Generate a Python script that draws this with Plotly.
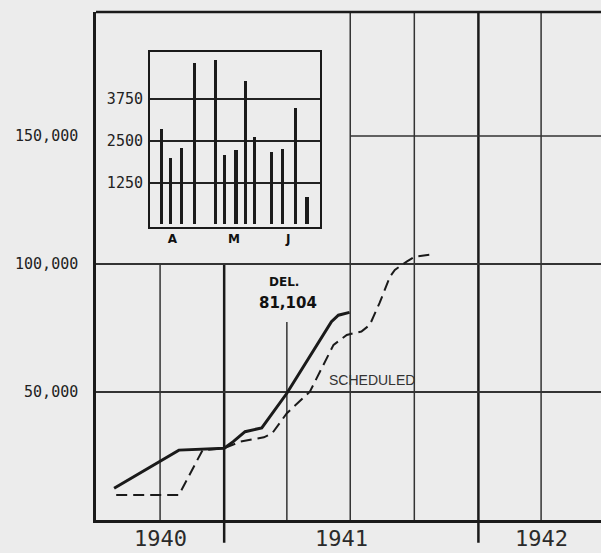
import plotly.graph_objects as go

# ---- data ----
delivered_dates = ["1940-07-27", "1940-10-28", "1941-01-01", "1941-01-14", "1941-01-31",
                   "1941-02-24", "1941-04-01", "1941-06-04", "1941-06-14", "1941-06-30"]
delivered = [12400, 27300, 28000, 30600, 34500, 36000, 49500, 77500, 80000, 81104]

scheduled_dates = ["1940-07-30", "1940-10-28", "1940-12-01", "1941-01-01", "1941-01-24",
                   "1941-02-27", "1941-03-11", "1941-04-01", "1941-05-04", "1941-06-07",
                   "1941-06-26", "1941-07-17", "1941-07-29", "1941-08-12", "1941-08-27",
                   "1941-09-03", "1941-09-20", "1941-10-02", "1941-10-30"]
scheduled = [9800, 9800, 27300, 28000, 30600, 32300, 33900, 41700, 50100, 68400,
             72300, 73600, 76200, 84700, 95000, 97700, 100900, 102900, 103900]

week_dates = ["1941-04-07", "1941-04-12", "1941-04-18", "1941-04-25", "1941-05-06",
              "1941-05-11", "1941-05-17", "1941-05-22", "1941-05-27", "1941-06-05",
              "1941-06-11", "1941-06-18", "1941-06-24"]
weekly = [2860, 2000, 2300, 4830, 4930, 2080, 2230, 4300, 2610, 2160, 2260, 3500, 830]

y_ticks = [50000, 100000, 150000]
y_ticktext = ["50,000", "100,000", "150,000"]
year_label_pos = ["1940-10-01", "1941-06-19", "1942-04-01"]
year_labels = ["1940", "1941", "1942"]
inset_ticks = [1250, 2500, 3750]
inset_ticktext = ["1250", "2500", "3750"]
month_label_pos = ["1941-04-13", "1941-05-16", "1941-06-14"]
month_labels = ["A", "M", "J"]

BG = "#ececec"
INK = "#1a1a1a"

fig = go.Figure()

fig.add_trace(go.Scatter(x=scheduled_dates, y=scheduled, mode="lines",
                         line=dict(color=INK, width=2, dash="11px,6px"),
                         showlegend=False, hoverinfo="skip"))
fig.add_trace(go.Scatter(x=delivered_dates, y=delivered, mode="lines",
                         line=dict(color=INK, width=3),
                         showlegend=False, hoverinfo="skip"))
fig.add_trace(go.Bar(x=week_dates, y=weekly, xaxis="x2", yaxis="y2",
                     marker=dict(color=INK, line=dict(width=0)),
                     width=1.45e8, showlegend=False, hoverinfo="skip"))

X0, X1 = "1940-07-01", "1942-06-26"
Y1 = 198437

fig.update_layout(
    width=601, height=553,
    margin=dict(l=96, r=0, t=12, b=33),
    paper_bgcolor=BG, plot_bgcolor=BG,
    xaxis=dict(type="date", range=[X0, X1], showgrid=False, zeroline=False,
               showline=True, linecolor=INK, linewidth=2.5, ticks="",
               showticklabels=False),
    yaxis=dict(range=[0, Y1], showgrid=False, zeroline=False,
               showline=True, linecolor=INK, linewidth=2.5, ticks="",
               tickvals=y_ticks, ticktext=y_ticktext,
               tickfont=dict(family="DejaVu Sans Mono", size=15, color="#222"),
               ticklabelstandoff=12),
    xaxis2=dict(type="date", range=["1941-04-01", "1941-07-01"],
                domain=[0.1069, 0.4436], anchor="y2",
                showgrid=False, zeroline=False, showline=True, mirror=True,
                linecolor=INK, linewidth=2, ticks="",
                tickvals=month_label_pos, ticktext=month_labels,
                tickfont=dict(family="DejaVu Sans", size=12, color="#111", weight="bold")),
    yaxis2=dict(range=[-80, 5165], domain=[0.5768, 0.9213], anchor="x2",
                showgrid=True, gridcolor="#222", gridwidth=1.5, zeroline=False,
                showline=True, mirror=True, linecolor=INK, linewidth=2, ticks="",
                tickvals=inset_ticks, ticktext=inset_ticktext,
                tickfont=dict(family="DejaVu Sans Mono", size=15, color="#222"),
                ticklabelstandoff=2),
    bargap=0,
)

# year labels under the axis
for pos, lab in zip(year_label_pos, year_labels):
    fig.add_annotation(x=pos, y=-0.037, xref="x", yref="paper", text=lab,
                       showarrow=False, yanchor="middle",
                       font=dict(family="DejaVu Sans Mono", size=22, color="#2a2a2a"))

shapes = []
def vline(x, y0, y1, w, yref="y", color="#333"):
    shapes.append(dict(type="line", xref="x", yref=yref, x0=x, x1=x, y0=y0, y1=y1,
                       line=dict(color=color, width=w), layer="below"))
def hline(y, x0, x1, w, color="#333"):
    shapes.append(dict(type="line", xref="x", yref="y", x0=x0, x1=x1, y0=y, y1=y,
                       line=dict(color=color, width=w), layer="below"))

# lower region grid
vline("1940-10-01", 0, 100000, 1.5)
vline("1941-04-01", 0, 77300, 1.5)
# full-height quarter lines
vline("1941-07-01", 0, Y1, 1.5)
vline("1941-10-01", 0, Y1, 1.5)
vline("1942-04-01", 0, Y1, 1.5)
# year lines (thicker, with tick below the axis)
vline("1941-01-01", -0.045, 0.504, 2.5, yref="paper", color=INK)
vline("1942-01-01", -0.045, 1, 2.5, yref="paper", color=INK)
# horizontal grid
hline(50000, X0, X1, 2)
hline(100000, X0, X1, 2)
hline(150000, "1941-07-01", X1, 1.5)
# top border
shapes.append(dict(type="line", xref="paper", yref="paper", x0=0, x1=1, y0=1, y1=1,
                   line=dict(color=INK, width=2.5)))
# inset month dividers
for d in ["1941-05-01", "1941-06-01"]:
    shapes.append(dict(type="line", xref="x2", yref="y2 domain", x0=d, x1=d, y0=0, y1=1,
                       line=dict(color="#333", width=1.2), layer="below"))
fig.update_layout(shapes=shapes)

fig.add_annotation(x="1941-03-28", y=92970, text="DEL.", showarrow=False,
                   font=dict(family="DejaVu Sans", size=12, color="#111", weight="bold"))
fig.add_annotation(x="1941-04-02", y=84770, text="81,104", showarrow=False,
                   font=dict(family="DejaVu Sans", size=15, color="#111", weight="bold"))
fig.add_annotation(x="1941-05-29", y=54690, text="SCHEDULED", showarrow=False,
                   xanchor="left",
                   font=dict(family="Liberation Sans", size=14, color="#333"))

fig.write_html("out.html",
               config={"displayModeBar": False},
               post_script="document.body.style.margin='0';document.body.style.background='#ececec';document.body.style.overflow='hidden';")
